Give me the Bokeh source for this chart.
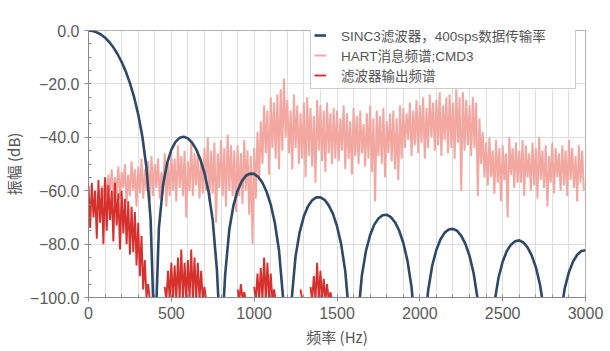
from bokeh.plotting import figure
from bokeh.models import FixedTicker, Legend, LegendItem, Range1d, CustomJSTickFormatter
from bokeh.embed import file_html
from bokeh.resources import INLINE

# ---------------- data ----------------
# SINC3 filter response, 400 sps (dB), every 25 Hz from 0 to 3000 Hz
sinc_hz = list(range(0, 3001, 25))
sinc_db = [
    0.0, -0.2, -0.7, -1.5, -2.7, -4.3, -6.3, -8.8, -11.8, -15.3, -19.7, -24.9, -31.4, -39.7, -51.4, -70.7, -120,
    -74.0, -57.9, -49.6, -44.7, -41.7, -40.2, -39.8, -40.4, -42.0, -44.5, -48.3, -53.4, -60.6, -71.2, -89.6, -120,
    -91.3, -74.5, -65.5, -60.0, -56.5, -54.4, -53.6, -53.7, -54.9, -57.0, -60.4, -65.2, -72.1, -82.4, -100.5, -120,
    -101.6, -84.5, -75.4, -69.6, -65.8, -63.6, -62.5, -62.5, -63.4, -65.5, -68.6, -73.3, -80.0, -90.2, -108, -120,
    -108.9, -91.8, -82.5, -76.6, -72.7, -70.4, -69.2, -69.0, -69.9, -71.8, -74.9, -79.5, -86.1, -96.1, -114, -120,
    -114.7, -97.4, -88.0, -82.1, -78.2, -75.7, -74.5, -74.3, -75.0, -76.9, -79.9, -84.4, -91.0, -101, -118.8, -120,
    -119.4, -102.1, -92.6, -86.6, -82.6, -80.2, -78.9, -78.6, -79.4, -81.2, -84.2, -88.6, -95.1, -105, -122.9, -130,
    -123, -106, -96.5, -90.5, -86.5, -84.0, -82.6, -82.3,
]

# HART message spectrum (CMD3): upper and lower excursions every 20 Hz
hart_hz = list(range(80, 3000, 20))
hart_hi = [
    -58,
    -56, -54, -52, -55, -51, -53, -50, -54, -49, -52,
    -51, -48, -52, -49, -47, -50, -48, -53, -46, -49,
    -46, -48, -43, -47, -45, -49, -42, -46, -45, -48,
    -44, -40, -45, -42, -46, -41, -44, -39, -43, -45,
    -43, -46, -41, -45, -47, -44, -38,
    -34, -28, -30, -25, -27, -24, -22, -18,
    -26, -30, -24, -28, -31, -27, -25, -29, -32, -26, -28, -30, -27, -31, -29,
    -30, -33, -28, -31, -34, -29, -32, -30, -35, -31, -28, -33, -30, -32, -29, -34, -31, -30, -33, -28,
    -29, -31, -27, -30, -26, -28, -25, -29, -24, -27, -26, -23, -28, -25, -24, -27, -22, -25, -23, -26,
    -28, -25, -27, -33, -38,
    -42, -40, -45, -41, -44, -43, -46, -40, -44, -42, -45, -41, -43, -46, -42, -44, -40, -45, -43, -47,
    -42, -44, -46, -43, -45, -41, -44, -47, -43, -45,
]
hart_lo = [
    -63,
    -62, -60, -64, -61, -63, -59, -65, -62, -60, -66,
    -61, -63, -60, -64, -62, -59, -63, -61, -66, -62,
    -60, -64, -59, -62, -70, -60, -62, -58, -63, -61,
    -60, -64, -61, -72, -59, -62, -66, -60, -62, -68,
    -62, -65, -60, -69, -80, -63, -56,
    -50, -46, -54, -44, -48, -52, -45, -40,
    -46, -52, -44, -50, -48, -55, -47, -51, -57, -45, -49, -53, -46, -50, -48,
    -49, -45, -52, -48, -54, -47, -50, -46, -51, -48, -53, -64, -47, -50, -55, -46, -49, -52, -56, -48,
    -44, -41, -47, -43, -46, -42, -48, -44, -40, -45, -43, -47, -41, -46, -44, -48, -42, -60, -45, -43,
    -47, -44, -62, -50, -55,
    -58, -55, -61, -57, -64, -56, -70, -54, -59, -57, -57, -62, -55, -60, -58, -63, -56, -59, -66, -57,
    -61, -55, -60, -58, -62, -56, -59, -64, -57, -60,
]

# Filter output spectrum: clusters of upper / lower excursions every 20 Hz
out_hz = [
    list(range(0, 361, 20)),
    list(range(460, 701, 20)),
    [900, 920, 940],
    list(range(1000, 1121, 20)),
    [1280],
    list(range(1340, 1461, 20)),
]
out_hi = [
    [-58, -57, -60, -56, -59, -55, -58, -60, -57, -61, -60, -63, -64, -66, -68, -72, -77, -86, -95],
    [-96, -90, -87, -88, -85, -82, -87, -86, -82, -85, -87, -90, -96],
    [-97, -95, -98],
    [-96, -91, -89, -85, -87, -91, -97],
    [-97],
    [-96, -92, -87, -90, -93, -95, -98],
]
out_lo = [
    [-74, -70, -78, -72, -80, -75, -71, -79, -73, -82, -76, -80, -84, -83, -88, -92, -97, -100, -101],
    [-101, -101, -101, -101, -101, -101, -101, -101, -101, -101, -101, -101, -101],
    [-101, -101, -101],
    [-101, -101, -101, -101, -101, -101, -101],
    [-101],
    [-101, -101, -101, -101, -101, -101, -101],
]

labels = ["SINC3滤波器，400sps数据传输率", "HART消息频谱;CMD3", "滤波器输出频谱"]
x_ticks = [0, 500, 1000, 1500, 2000, 2500, 3000]
y_ticks = [-100, -80, -60, -40, -20, 0]

# ---------------- styling ----------------
C_SINC = "#2e4868"
C_HART = "#f3a7a1"
C_OUT = "#d6312d"
CJK = "Noto Sans CJK SC"
NUM = "Liberation Sans"
MIXED = "Liberation Sans, Noto Sans CJK SC"


def zigzag(hz, hi, lo, half=10):
    xs, ys = [], []
    for f, h, l in zip(hz, hi, lo):
        xs += [f, f + half]
        ys += [h, l]
    return xs, ys


p = figure(frame_width=497, frame_height=267,
           x_range=Range1d(0, 3000), y_range=Range1d(-100, 0),
           output_backend="svg", toolbar_location=None,
           min_border_left=85, min_border_right=28, min_border_top=30, min_border_bottom=54,
           background_fill_color="white", border_fill_color="white")
p.outline_line_color = "#b0b0b0"

# grids
p.xgrid.ticker = FixedTicker(ticks=list(range(0, 3001, 100)))
p.xgrid.grid_line_color = "#dedede"
p.ygrid.ticker = FixedTicker(ticks=y_ticks)
p.ygrid.grid_line_color = "#dedede"

# axes
p.xaxis.ticker = FixedTicker(ticks=x_ticks, minor_ticks=list(range(0, 3001, 100)))
p.yaxis.ticker = FixedTicker(ticks=y_ticks, minor_ticks=list(range(-100, 1, 5)))
p.yaxis.formatter = CustomJSTickFormatter(
    code="return (tick < 0 ? '\u2212' : '') + Math.abs(tick).toFixed(1);")
for ax in (p.xaxis[0], p.yaxis[0]):
    ax.axis_line_color = "#8a8a8a"
    ax.major_tick_line_color = "#8a8a8a"
    ax.minor_tick_line_color = "#8a8a8a"
    ax.major_tick_out = 4
    ax.major_tick_in = 0
    ax.minor_tick_out = 0
    ax.minor_tick_in = 3
    ax.major_label_text_font = NUM
    ax.major_label_text_font_size = "16px"
    ax.major_label_text_color = "#5a5a5a"
    ax.major_label_standoff = 5
    ax.axis_label_text_font = CJK
    ax.axis_label_text_font_size = "15px"
    ax.axis_label_text_font_style = "normal"
    ax.axis_label_text_color = "#555555"
p.xaxis.axis_label = "频率 (Hz)"
p.yaxis.axis_label = "振幅 (dB)"
p.xaxis.axis_label_standoff = 4
p.yaxis.axis_label_standoff = 3

# series
hx, hy = zigzag(hart_hz, hart_hi, hart_lo)
r_hart = p.line(hx, hy, line_color=C_HART, line_width=2.0)

oxs, oys = [], []
for hz, hi, lo in zip(out_hz, out_hi, out_lo):
    xs, ys = zigzag(hz, hi, lo)
    oxs.append(xs)
    oys.append(ys)
r_out = p.multi_line(oxs, oys, line_color=C_OUT, line_width=1.9)

r_sinc = p.line(sinc_hz, sinc_db, line_color=C_SINC, line_width=2.6, line_join="round")

legend = Legend(items=[
    LegendItem(label=labels[0], renderers=[r_sinc]),
    LegendItem(label=labels[1], renderers=[r_hart]),
    LegendItem(label=labels[2], renderers=[r_out]),
], location=(222, 208))
legend.label_text_font = MIXED
legend.label_text_font_size = "13.5px"
legend.label_text_color = "#555555"
legend.glyph_width = 12
legend.glyph_height = 16
legend.label_height = 16
legend.label_standoff = 15
legend.label_width = 231
legend.padding = 3
legend.spacing = -3
legend.margin = 0
legend.border_line_color = "#9a9a9a"
legend.border_line_width = 1
legend.background_fill_color = "white"
legend.background_fill_alpha = 1.0
p.add_layout(legend)

open("out.html", "w").write(file_html(p, INLINE))
